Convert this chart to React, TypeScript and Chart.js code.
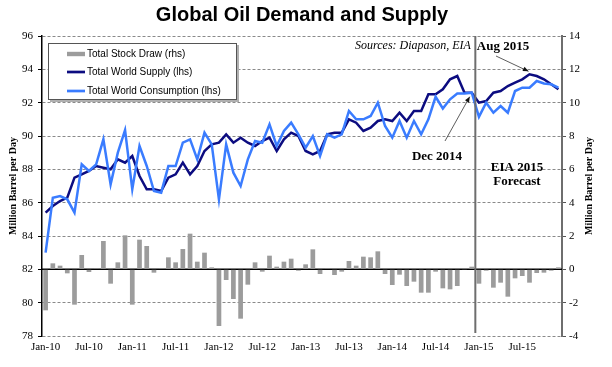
import React, { useEffect, useRef } from 'react';
import { Chart, registerables } from 'chart.js';

Chart.register(...registerables);

const MONTHS = ['Jan', 'Feb', 'Mar', 'Apr', 'May', 'Jun', 'Jul', 'Aug', 'Sep', 'Oct', 'Nov', 'Dec'];
const YEARS = ['10', '11', '12', '13', '14', '15'];
const categories: string[] = YEARS.flatMap((y) => MONTHS.map((m) => `${m}-${y}`));

// Total Stock Draw (rhs), million barrels per day
const stockDraw = [
  -2.46, 0.36, 0.22, -0.24, -2.12, 0.86, -0.16, 0.04, 1.7, -0.86, 0.42, 2.04,
  -2.12, 1.78, 1.4, -0.2, 0.04, 0.72, 0.42, 1.22, 2.14, 0.46, 1.0, 0.12,
  -3.4, -0.64, -1.78, -2.96, -0.92, 0.42, -0.14, 0.82, 0.16, 0.46, 0.64, -0.08,
  0.3, 1.2, -0.28, 0.02, -0.34, -0.14, 0.5, 0.22, 0.76, 0.72, 1.08, -0.28,
  -0.94, -0.32, -1.0, -0.74, -1.4, -1.4, -0.14, -1.14, -1.2, -1.0, -0.04, 0.16,
  -0.86, -0.08, -1.1, -0.8, -1.64, -0.54, -0.4, -0.8, -0.22, -0.2, -0.08, 0.12,
];

// Total World Supply (lhs)
const supply = [
  85.4, 85.8, 86.1, 86.3, 87.5, 87.7, 87.9, 88.2, 88.1, 88.0, 88.6, 88.4,
  88.8, 87.6, 86.8, 86.8, 86.7, 87.5, 87.7, 88.4, 87.7, 88.2, 89.1, 89.5,
  89.6, 90.1, 89.6, 89.9, 89.6, 89.4, 89.7, 89.9, 89.1, 89.8, 90.2, 90.0,
  89.1, 88.9, 89.1, 90.1, 90.2, 90.2, 91.0, 90.8, 90.3, 90.5, 90.9, 91.0,
  90.9, 91.4, 90.9, 91.5, 91.5, 92.5, 92.5, 92.8, 93.4, 93.6, 92.6, 92.6,
  92.0, 92.1, 92.6, 92.7, 93.0, 93.2, 93.4, 93.7, 93.6, 93.4, 93.1, 92.8,
];

// Total World Consumption (lhs)
const consumption = [
  83.0, 86.3, 86.4, 86.2, 85.4, 88.3, 87.9, 88.3, 89.8, 87.1, 89.0, 90.35,
  86.8, 89.4, 88.2, 86.7, 86.6, 88.2, 88.2, 89.6, 89.8, 88.6, 90.2, 89.5,
  86.2, 89.5, 87.8, 87.0, 88.6, 89.7, 89.6, 90.7, 89.4, 90.3, 90.8, 90.1,
  89.3, 90.0, 88.8, 90.1, 89.9, 90.1, 91.5, 91.0, 91.0, 91.2, 92.0, 90.6,
  89.9, 90.9, 89.9, 90.9, 90.1, 91.0, 92.35, 91.65, 92.2, 92.55, 92.55, 92.6,
  91.15, 92.0, 91.4, 91.8, 91.4, 92.7, 92.9, 92.9, 93.3, 93.15, 93.1, 92.9,
];

const LEFT_MIN = 78;
const LEFT_MAX = 96;
const RIGHT_MIN = -4;
const RIGHT_MAX = 14;
const AXIS_STEP = 2;

const TITLE = 'Global Oil Demand and Supply';
const AXIS_TITLE = 'Million Barrel per Day';
const SOURCE = 'Sources: Diapason, EIA';
const LEGEND = ['Total Stock Draw (rhs)', 'Total World Supply (lhs)', 'Total World Consumption (lhs)'];
const FORECAST_START = 'Jan-15';
const AUG_LABEL = 'Aug 2015';
const AUG_CAT = 'Aug-15';
const DEC_LABEL = 'Dec 2014';
const DEC_CAT = 'Dec-14';

const SUPPLY_COLOR = '#0c0c80';
const CONS_COLOR = '#3a7cff';
const BAR_COLOR = '#9c9c9c';
const SERIF = "'Liberation Serif', 'Times New Roman', serif";
const SANS = "'Liberation Sans', Arial, sans-serif";

function arrow(ctx: CanvasRenderingContext2D, x1: number, y1: number, x2: number, y2: number) {
  ctx.save();
  ctx.strokeStyle = '#333';
  ctx.fillStyle = '#111';
  ctx.lineWidth = 0.8;
  ctx.beginPath();
  ctx.moveTo(x1, y1);
  ctx.lineTo(x2, y2);
  ctx.stroke();
  const a = Math.atan2(y2 - y1, x2 - x1);
  const L = 6;
  const w = 0.4;
  ctx.beginPath();
  ctx.moveTo(x2, y2);
  ctx.lineTo(x2 - L * Math.cos(a - w), y2 - L * Math.sin(a - w));
  ctx.lineTo(x2 - L * Math.cos(a + w), y2 - L * Math.sin(a + w));
  ctx.closePath();
  ctx.fill();
  ctx.restore();
}

const overlayPlugin = {
  id: 'overlay',
  beforeDatasetsDraw(chart: any) {
    const { ctx, chartArea, scales } = chart;
    const y0 = scales.y1.getPixelForValue(0);
    ctx.save();
    ctx.strokeStyle = '#000';
    ctx.lineWidth = 1.5;
    ctx.beginPath();
    ctx.moveTo(chartArea.left, y0);
    ctx.lineTo(chartArea.right, y0);
    ctx.stroke();
    ctx.restore();
  },
  afterDatasetsDraw(chart: any) {
    const { ctx, chartArea, scales } = chart;
    const xs = scales.x;
    const ys = scales.y;
    // forecast divider
    const fi = categories.indexOf(FORECAST_START);
    const vx = (xs.getPixelForValue(fi - 1) + xs.getPixelForValue(fi)) / 2;
    ctx.save();
    ctx.strokeStyle = '#6e6e6e';
    ctx.lineWidth = 2;
    ctx.beginPath();
    ctx.moveTo(vx, chartArea.top);
    ctx.lineTo(vx, chartArea.bottom - 3);
    ctx.stroke();
    ctx.restore();

    // title
    ctx.save();
    ctx.fillStyle = '#000';
    ctx.textAlign = 'center';
    ctx.textBaseline = 'middle';
    ctx.font = `bold 20px ${SANS}`;
    ctx.fillText(TITLE, 302, 15);

    // axis titles
    ctx.font = `bold 10px ${SERIF}`;
    const midY = (chartArea.top + chartArea.bottom) / 2;
    ctx.save();
    ctx.translate(13, midY);
    ctx.rotate(-Math.PI / 2);
    ctx.fillText(AXIS_TITLE, 0, 0);
    ctx.restore();
    ctx.save();
    ctx.translate(589, midY);
    ctx.rotate(-Math.PI / 2);
    ctx.fillText(AXIS_TITLE, 0, 0);
    ctx.restore();

    // source
    ctx.font = `italic 12px ${SERIF}`;
    ctx.textAlign = 'left';
    ctx.fillText(SOURCE, 355, 46);

    // forecast label
    ctx.textAlign = 'center';
    ctx.font = `bold 13px ${SERIF}`;
    ctx.fillText('EIA 2015', 517, 168);
    ctx.fillText('Forecast', 517, 182);

    // annotations
    const ai = categories.indexOf(AUG_CAT);
    const ax = xs.getPixelForValue(ai);
    const ay = ys.getPixelForValue(supply[ai]);
    ctx.fillText(AUG_LABEL, 503, 47);
    const di = categories.indexOf(DEC_CAT);
    const dx = xs.getPixelForValue(di);
    const dy = ys.getPixelForValue(consumption[di]);
    ctx.fillText(DEC_LABEL, 437, 157);
    ctx.restore();
    arrow(ctx, 496, 56, ax - 1, ay - 3);
    arrow(ctx, 445, 141, dx - 2, dy + 4);

    // legend
    ctx.save();
    ctx.fillStyle = '#b0b0b0';
    ctx.fillRect(50, 45, 189, 57);
    ctx.fillStyle = '#fff';
    ctx.fillRect(48, 43, 189, 57);
    ctx.strokeStyle = '#555';
    ctx.lineWidth = 1;
    ctx.strokeRect(48.5, 43.5, 188, 56);
    const rows = [54, 72, 91];
    ctx.fillStyle = BAR_COLOR;
    ctx.fillRect(67, rows[0] - 2.2, 18, 4.4);
    ctx.lineWidth = 2.7;
    ctx.strokeStyle = SUPPLY_COLOR;
    ctx.beginPath();
    ctx.moveTo(67, rows[1]);
    ctx.lineTo(85, rows[1]);
    ctx.stroke();
    ctx.strokeStyle = CONS_COLOR;
    ctx.beginPath();
    ctx.moveTo(67, rows[2]);
    ctx.lineTo(85, rows[2]);
    ctx.stroke();
    ctx.fillStyle = '#000';
    ctx.font = `10px ${SANS}`;
    ctx.textAlign = 'left';
    ctx.textBaseline = 'middle';
    LEGEND.forEach((t, i) => ctx.fillText(t, 87, rows[i]));
    ctx.restore();
  },
};

export default function App() {
  const ref = useRef<HTMLCanvasElement>(null);
  useEffect(() => {
    if (!ref.current) return;
    const chart = new Chart(ref.current, {
      data: {
        labels: categories,
        datasets: [
          {
            type: 'bar',
            label: LEGEND[0],
            data: stockDraw,
            backgroundColor: BAR_COLOR,
            yAxisID: 'y1',
            barPercentage: 0.65,
            categoryPercentage: 1,
            order: 3,
          },
          {
            type: 'line',
            label: LEGEND[1],
            data: supply,
            borderColor: SUPPLY_COLOR,
            borderWidth: 2.5,
            pointRadius: 0,
            tension: 0,
            yAxisID: 'y',
            order: 2,
          },
          {
            type: 'line',
            label: LEGEND[2],
            data: consumption,
            borderColor: CONS_COLOR,
            borderWidth: 2.5,
            pointRadius: 0,
            tension: 0,
            yAxisID: 'y',
            order: 1,
          },
        ],
      } as any,
      options: {
        responsive: false,
        animation: false,
        layout: { padding: { top: 36, left: 0, right: 0, bottom: 0 } },
        plugins: { legend: { display: false }, title: { display: false }, tooltip: { enabled: false } },
        scales: {
          x: {
            type: 'category',
            offset: true,
            grid: { display: false, drawTicks: false },
            border: { display: false },
            ticks: {
              autoSkip: false,
              maxRotation: 0,
              minRotation: 0,
              padding: 5,
              color: '#000',
              font: { family: SERIF, size: 11 },
              callback: (_v: any, i: number) => (i % 6 === 0 ? categories[i] : ''),
            },
            afterFit: (s: any) => {
              s.height = 31;
            },
          },
          y: {
            position: 'left',
            min: LEFT_MIN,
            max: LEFT_MAX,
            ticks: { stepSize: AXIS_STEP, padding: 5, color: '#000', font: { family: SERIF, size: 11 } },
            grid: { color: '#8a8a8a', lineWidth: 1, tickLength: 4, tickColor: '#000' },
            border: { display: true, color: '#000', width: 1.5, dash: [3, 2] },
            afterFit: (s: any) => {
              s.width = 42;
            },
          },
          y1: {
            position: 'right',
            min: RIGHT_MIN,
            max: RIGHT_MAX,
            ticks: { stepSize: AXIS_STEP, padding: 3, color: '#000', font: { family: SERIF, size: 11 } },
            grid: { drawOnChartArea: false, tickLength: 4, tickColor: '#555' },
            border: { display: true, color: '#6e6e6e', width: 2 },
            afterFit: (s: any) => {
              s.width = 50;
            },
          },
        },
      } as any,
      plugins: [overlayPlugin],
    });
    return () => chart.destroy();
  }, []);
  return (
    <div style={{ position: 'fixed', left: 0, top: 0, width: 612, height: 367, background: '#fff' }}>
      <canvas ref={ref} width={612} height={367} style={{ width: 612, height: 367 }} />
    </div>
  );
}
